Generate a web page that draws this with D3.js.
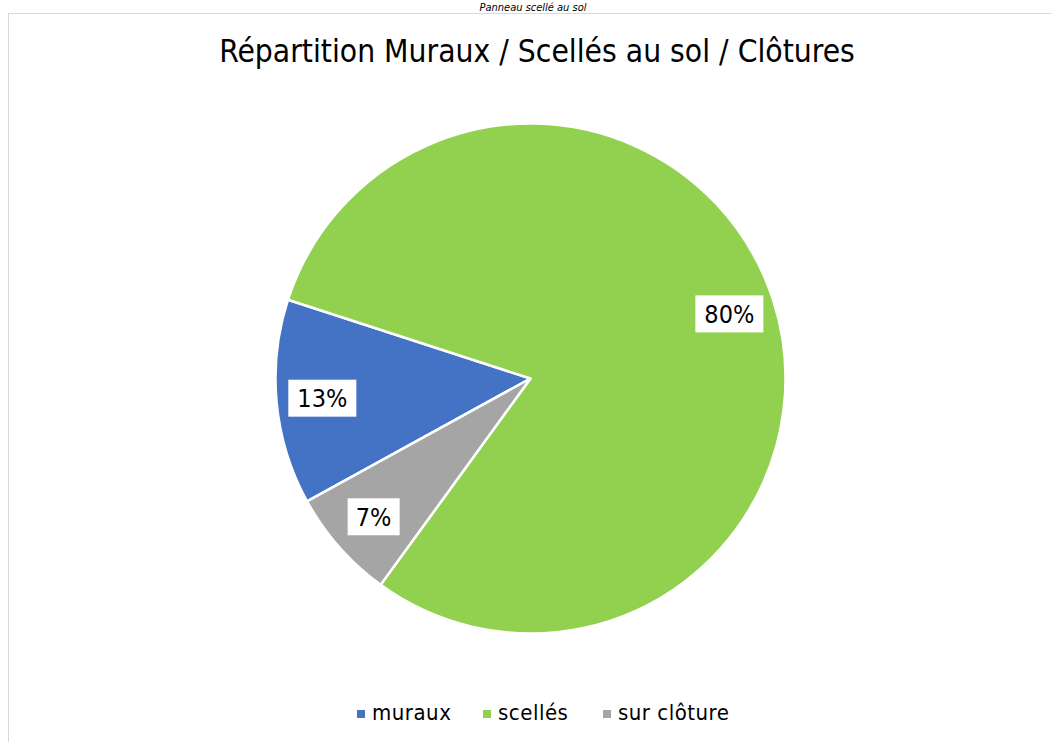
<!DOCTYPE html>
<html lang="fr">
<head>
    <meta charset="UTF-8">
    <title>Répartition</title>
    <script src="https://cdn.jsdelivr.net/npm/d3@7"></script>
    <style>
        body { margin: 0; background: #fff; }
        text { font-family: "Liberation Sans Narrow", "DejaVu Sans Condensed", sans-serif; }
    </style>
</head>
<body>
<script>
    var width = 1052, height = 742;
    // données
    var categories = ["muraux", "scellés", "sur clôture"];
    var values = [13, 80, 7];
    var labels = ["13%", "80%", "7%"];
    var colors = ["#4472C4", "#92D050", "#A5A5A5"];

    var svg = d3.select("body").append("svg")
        .attr("width", width)
        .attr("height", height);

    // légende de la figure (coupée en haut dans l'original)
    svg.append("text")
        .attr("x", 533).attr("y", 11)
        .attr("text-anchor", "middle")
        .style("font-style", "italic")
        .style("font-size", "11px")
        .text("Panneau scellé au sol");

    // cadre du graphique
    svg.append("rect")
        .attr("x", 8.5).attr("y", 13.5)
        .attr("width", 1100).attr("height", 800)
        .attr("fill", "#fff")
        .attr("stroke", "#d9d9d9");

    svg.append("text")
        .attr("x", 537).attr("y", 62)
        .attr("text-anchor", "middle")
        .style("font-size", "31.5px")
        .attr("fill", "#000")
        .text("Répartition Muraux / Scellés au sol / Clôtures");

    var cx = 530.5, cy = 378.5, r = 255;
    var startAngle = 241.2 * Math.PI / 180;
    var pie = d3.pie().sort(null)
        .startAngle(startAngle)
        .endAngle(startAngle + 2 * Math.PI);
    var arcs = pie(values);
    var arc = d3.arc().innerRadius(0).outerRadius(r);
    var labelArc = d3.arc().innerRadius(r * 0.82).outerRadius(r * 0.82);

    var g = svg.append("g").attr("transform", "translate(" + cx + "," + cy + ")");
    g.selectAll("path")
        .data(arcs)
        .enter()
        .append("path")
        .attr("d", arc)
        .attr("fill", function (d, i) { return colors[i]; })
        .attr("stroke", "#fff")
        .attr("stroke-width", 2.5)
        .attr("stroke-linejoin", "round");

    // étiquettes de données
    var lab = g.selectAll(".lab")
        .data(arcs)
        .enter()
        .append("g")
        .attr("class", "lab")
        .attr("transform", function (d) { return "translate(" + labelArc.centroid(d) + ")"; });
    lab.append("rect")
        .attr("x", function (d, i) { return labels[i].length > 2 ? -34 : -26; })
        .attr("y", -18.5)
        .attr("width", function (d, i) { return labels[i].length > 2 ? 68 : 52; })
        .attr("height", 37)
        .attr("fill", "#fff");
    lab.append("text")
        .attr("text-anchor", "middle")
        .attr("dy", "0.36em")
        .style("font-size", "25px")
        .text(function (d, i) { return labels[i]; });

    // légende
    var legendX = [357, 483, 603];
    var legend = svg.selectAll(".legend")
        .data(categories)
        .enter()
        .append("g")
        .attr("class", "legend")
        .attr("transform", function (d, i) { return "translate(" + legendX[i] + ",710)"; });
    legend.append("rect")
        .attr("width", 8).attr("height", 8)
        .attr("fill", function (d, i) { return colors[i]; });
    legend.append("text")
        .attr("x", 15).attr("y", 10)
        .style("font-size", "22px")
        .style("letter-spacing", "0.5px")
        .text(function (d) { return d; });
</script>
</body>
</html>
